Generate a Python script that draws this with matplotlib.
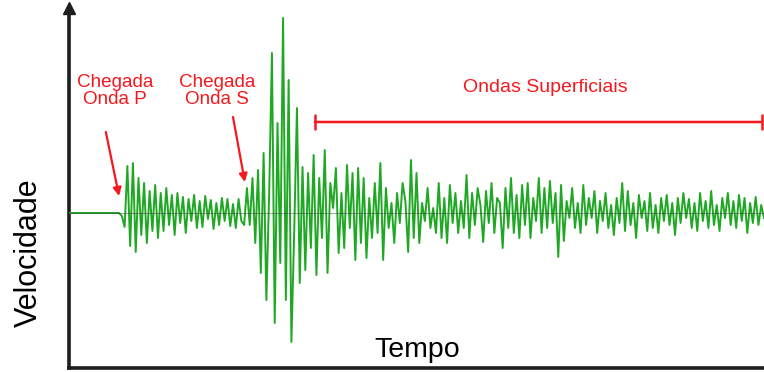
import numpy as np
import matplotlib
matplotlib.use("Agg")
import matplotlib.pyplot as plt

plt.rcParams['font.family'] = ['Liberation Sans', 'DejaVu Sans']

# Seismogram: ground velocity sampled every 0.4 s (arbitrary units, up = positive)
dt = 0.4
quiet = [0, 0, 0, 0, 0, 0, 0, 0, 0, 0, 0, 0, 0, 0, 0, 0, 0, 0, 0]
p_wave = [-3, -14, 47, -33, 50, -39, 35, -22, 30, -30, 22, -18, 28, -25,
          20, -18, 25, -12, 18, -22, 20, -10, 16, -20, 14, -8, 18, -15, 12, -14,
          17, -6, 13, -16, 10, -12, 15, -8, 14, -13, 9, -15, 14, -8, -12]
s_wave = [25, -12, 35, -30, 43, -60, 60, -87, 20, 160, -110, 90, -50, 195, -87,
          133, -129, -20, 105, -70, 46, -57]
surface_wave = [40, -35, 58, -62, 35, -25, 63, -60, 30, 5, 45, -40, 20, -35, 48,
                -15, 40, -47, 45, -30, 35, -45, 15, -25, 30, -20, 50, -47, 25, -15,
                10, -30, 20, -10, 30, 12, -39, 53, -25, 40, -30, 10, -8, 25, -15, 5,
                -20, 30, -25, 15, -30, 28, -10, 20, -20, 12, -15, 38, -25, 20, -12,
                25, 8, -29, 22, -10, 30, -20, 15, 10, -35, 25, -15, 35, -20, 18, -25,
                28, -12, 30, -25, 15, -8, 35, -20, 25, -15, 32, -10, 20, -44, 28,
                -28, 12, -5, 25, -15, 10, -20, 28, -12, 15, -5, 22, -20, 12, -8, 20,
                -15, 8, -22, 15, -10, 30, -18, 22, -12, 10, -25, 18, -5, 12, -18, 20,
                -15, 8, -20, 15, -8, 18, -12, 10, -22, 15, -10, 20, -5, 14, -15, 10,
                -18, 20, -8, 12, -15, 22, -12, 8, -18, 15, -5, 20, -12, 12, -15, 18,
                -8, 15, -20, 10, -10, 16, -12, 8, -5]

velocity = np.array(quiet + p_wave + s_wave + surface_wave, dtype=float)
time = np.arange(len(velocity)) * dt

red = '#f5191e'
green = '#1fa823'
axis_color = '#1e1e1e'

fig = plt.figure(figsize=(7.64, 3.72), dpi=100)
ax = fig.add_axes([69 / 764, 4 / 372, 1 - 69 / 764, 360 / 372])
ax.set_xlim(0, 100)
ax.set_ylim(-155, 205)

ax.plot(time, velocity, color=green, lw=1.4, zorder=3)
ax.axhline(0, color='#3a3a3a', lw=0.6, alpha=0.55, zorder=4)

# Axes drawn as plain black lines with an arrowhead on the velocity axis
for side in ('top', 'right'):
    ax.spines[side].set_visible(False)
for side in ('left', 'bottom'):
    ax.spines[side].set_linewidth(2.6)
    ax.spines[side].set_color(axis_color)
ax.set_xticks([])
ax.set_yticks([])
ax.plot([0], [205], marker='^', markersize=9, color=axis_color, clip_on=False,
        zorder=5)

fig.text(417 / 764, 15 / 372, 'Tempo', fontsize=20.5, ha='center', va='baseline')
fig.text(14 / 764, 1 - 253 / 372, 'Velocidade', rotation=90, fontsize=22,
         ha='left', va='center')

# Phase arrival labels
ax.text(6.6, 122, 'Chegada\nOnda P', color=red, fontsize=13.6, ha='center',
        va='center', linespacing=1.0)
ax.text(21.3, 122, 'Chegada\nOnda S', color=red, fontsize=13.6, ha='center',
        va='center', linespacing=1.0)
ax.annotate('', xy=(7.2, 17), xytext=(5.3, 81),
            arrowprops=dict(arrowstyle='-|>', color=red, lw=1.6, mutation_scale=12,
                            shrinkA=0, shrinkB=0))
ax.annotate('', xy=(25.3, 31), xytext=(23.6, 96),
            arrowprops=dict(arrowstyle='-|>', color=red, lw=1.6, mutation_scale=12,
                            shrinkA=0, shrinkB=0))

# Surface-wave interval bracket
ax.annotate('', xy=(99.7, 91), xytext=(35.4, 91),
            arrowprops=dict(arrowstyle='|-|', color=red, lw=1.8, mutation_scale=5,
                            shrinkA=0, shrinkB=0), annotation_clip=False)
ax.text(68.6, 125, 'Ondas Superficiais', color=red, fontsize=14, ha='center',
        va='center')

fig.savefig('out.png', dpi=100)
